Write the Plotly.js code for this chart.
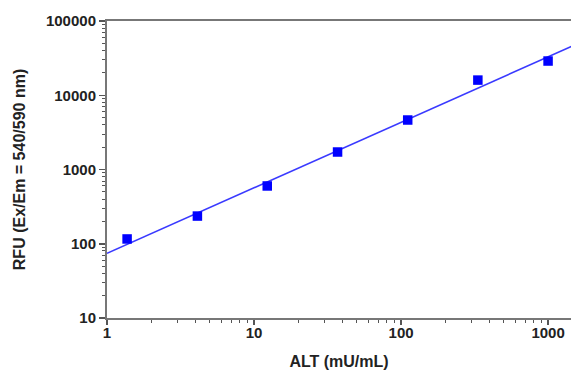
<!DOCTYPE html>
<html><head><meta charset="utf-8">
<script src="https://cdn.plot.ly/plotly-3.0.1.min.js"></script>
<style>html,body{margin:0;padding:0;background:#fff}#c{width:571px;height:372px}</style>
</head><body><div id="c"></div>
<script>
const altX = [1.37, 4.12, 12.3, 37.0, 111, 333, 1000];
const rfuY = [116, 236, 600, 1720, 4640, 16000, 28900];
const fitX = [1, 2000];
const fitY = [74.3, 60700];
const yTickVals = [10, 100, 1000, 10000, 100000];
const yTickText = ['10', '100', '1000', '10000', '100000'];
const xTickVals = [1, 10, 100, 1000];
const xTickText = ['1', '10', '100', '1000'];

const font = 'Liberation Sans, Arial, sans-serif';
Plotly.newPlot('c', [
  {x: fitX, y: fitY, mode: 'lines', line: {color: '#3a3aff', width: 1.6}, hoverinfo: 'skip'},
  {x: altX, y: rfuY, mode: 'markers', marker: {symbol: 'square', size: 9.5, color: '#0000ff'}}
], {
  width: 571, height: 372,
  margin: {l: 107, r: 0, t: 21, b: 54, pad: 0},
  showlegend: false,
  paper_bgcolor: '#fff', plot_bgcolor: '#fff',
  xaxis: {
    type: 'log', range: [0, Math.log10(1432)],
    tickvals: xTickVals, ticktext: xTickText,
    ticks: 'outside', ticklen: 5, tickwidth: 1.5, tickcolor: '#555',
    minor: {ticks: 'outside', ticklen: 3, tickwidth: 1, tickcolor: '#555', dtick: 'D1', showgrid: false},
    showline: true, linecolor: '#777', linewidth: 2, mirror: true,
    showgrid: false, zeroline: false,
    ticklabelstandoff: -5,
    tickfont: {family: font, size: 15, color: '#222', weight: 'bold'},
    title: {text: '<b>ALT (mU/mL)</b>', font: {family: font, size: 16, color: '#222'}, standoff: 16}
  },
  yaxis: {
    type: 'log', range: [1, 5],
    tickvals: yTickVals, ticktext: yTickText,
    ticks: 'outside', ticklen: 6, tickwidth: 1.5, tickcolor: '#555',
    minor: {ticks: 'outside', ticklen: 3, tickwidth: 1, tickcolor: '#555', dtick: 'D1', showgrid: false},
    showline: true, linecolor: '#777', linewidth: 2, mirror: false,
    showgrid: false, zeroline: false,
    tickfont: {family: font, size: 15, color: '#222', weight: 'bold'},
    title: {text: '<b>RFU (Ex/Em = 540/590 nm)</b>', font: {family: font, size: 16, color: '#222'}, standoff: 16}
  }
}, {staticPlot: true});
</script></body></html>
